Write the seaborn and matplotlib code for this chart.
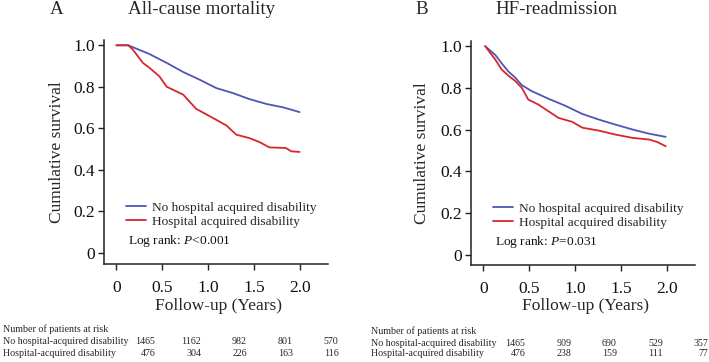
import numpy as np
import pandas as pd
import matplotlib
matplotlib.use("Agg")
import matplotlib.pyplot as plt
import seaborn as sns
from matplotlib import transforms

# ---------------- data ----------------
groups = ["No hospital acquired disability", "Hospital acquired disability"]

# Panel A: all-cause mortality
a_no_time = [0.0, 0.13, 0.36, 0.55, 0.73, 0.91, 1.09, 1.27, 1.45, 1.64, 1.82, 2.0]
a_no_surv = [1.0, 1.0, 0.958, 0.915, 0.871, 0.834, 0.794, 0.770, 0.741, 0.717, 0.701, 0.678]
a_hd_time = [0.0, 0.13, 0.18, 0.29, 0.36, 0.47, 0.55, 0.73, 0.87, 1.02, 1.20, 1.31, 1.45,
             1.56, 1.67, 1.85, 1.91, 2.0]
a_hd_surv = [1.0, 1.0, 0.979, 0.915, 0.892, 0.850, 0.800, 0.762, 0.694, 0.658, 0.614, 0.569,
             0.553, 0.534, 0.508, 0.505, 0.489, 0.486]

# Panel B: HF readmission
b_no_time = [0.02, 0.13, 0.20, 0.27, 0.35, 0.42, 0.53, 0.71, 0.89, 1.08, 1.26, 1.44, 1.63,
             1.81, 1.99]
b_no_surv = [1.0, 0.958, 0.918, 0.880, 0.848, 0.813, 0.784, 0.748, 0.715, 0.675, 0.648,
             0.624, 0.600, 0.580, 0.565]
b_hd_time = [0.02, 0.13, 0.20, 0.27, 0.35, 0.42, 0.49, 0.60, 0.71, 0.82, 0.97, 1.08, 1.26,
             1.44, 1.63, 1.81, 1.90, 1.99]
b_hd_surv = [1.0, 0.936, 0.888, 0.860, 0.832, 0.800, 0.744, 0.720, 0.688, 0.656, 0.637,
             0.609, 0.595, 0.576, 0.560, 0.552, 0.540, 0.520]

risk_times = [0, 0.5, 1.0, 1.5, 2.0]
risk_labels = ["No hospital-acquired disability", "Hospital-acquired disability"]
a_risk_no = [1465, 1162, 982, 801, 570]
a_risk_hd = [476, 304, 226, 163, 116]
b_risk_no = [1465, 909, 690, 529, 357]
b_risk_hd = [476, 238, 159, 111, 77]

xticks = [0, 0.5, 1.0, 1.5, 2.0]
xticklabels = ["0", "0.5", "1.0", "1.5", "2.0"]
yticks = [0, 0.2, 0.4, 0.6, 0.8, 1.0]
yticklabels = ["0", "0.2", "0.4", "0.6", "0.8", "1.0"]

# ---------------- style ----------------
sns.set_theme(style="ticks")
plt.rcParams["font.family"] = ["Liberation Serif", "DejaVu Serif"]
plt.rcParams["mathtext.fontset"] = "custom"
plt.rcParams["mathtext.rm"] = "Liberation Serif"
plt.rcParams["mathtext.it"] = "Liberation Serif:italic"

palette = {groups[0]: "#4F55B5", groups[1]: "#D7262E"}

W, H = 709, 362
fig = plt.figure(figsize=(W / 100, H / 100), dpi=100)


def px_axes(l, t, r, b):
    return fig.add_axes([l / W, 1 - b / H, (r - l) / W, (b - t) / H])


def ftext(x, y, s, **kw):
    return fig.text(x / W, 1 - y / H, s, **kw)


def make_df(t0, s0, t1, s1):
    return pd.concat([
        pd.DataFrame({"time": t0, "surv": s0, "group": groups[0]}),
        pd.DataFrame({"time": t1, "surv": s1, "group": groups[1]}),
    ], ignore_index=True)


axA = px_axes(104, 40, 328, 264)
axB = px_axes(471, 41, 695, 265)

panels = [
    (axA, make_df(a_no_time, a_no_surv, a_hd_time, a_hd_surv), (-0.054, 1.0255), "Log rank: $P$<0.001"),
    (axB, make_df(b_no_time, b_no_surv, b_hd_time, b_hd_surv), (-0.050, 1.025), "Log rank: $P$=0.031"),
]

for ax, df, ylim, ptxt in panels:
    sns.lineplot(data=df, x="time", y="surv", hue="group", palette=palette,
                 estimator=None, sort=False, linewidth=1.3, ax=ax, legend=False)
    ax.set_xlim(-0.135, 2.31)
    ax.set_ylim(*ylim)
    ax.set_xticks(xticks)
    ax.set_xticklabels(xticklabels)
    ax.set_yticks(yticks)
    ax.set_yticklabels(yticklabels)
    ax.set_xlabel("")
    ax.set_ylabel("")
    for side in ["top", "right"]:
        ax.spines[side].set_visible(False)
    for side in ["left", "bottom"]:
        ax.spines[side].set_linewidth(1.1)
        ax.spines[side].set_color("#222222")
    ax.tick_params(axis="both", direction="out", length=4.5, width=1.0, colors="#222222",
                   labelsize=12.5, labelcolor="#111111")
    ax.tick_params(axis="x", pad=7)
    ax.tick_params(axis="y", pad=2)
    ax.set_facecolor("white")
    lines = ax.get_lines()
    ax.legend(lines[:2], groups, loc="upper left", bbox_to_anchor=(0.10, 0.28),
              frameon=False, fontsize=9.6, borderpad=0, borderaxespad=0,
              handlelength=1.45, handletextpad=0.45, labelspacing=0.15)
    ax.text(0.105, 0.103, ptxt, transform=ax.transAxes, fontsize=9.6, va="center",
            ha="left", color="#111111")

# titles
ftext(50, 10, "A", ha="left", va="center", fontsize=13.7)
ftext(202, 10, "All-cause mortality", ha="center", va="center", fontsize=13.7)
ftext(415, 10, "B", ha="left", va="center", fontsize=13.7)
ftext(557, 10, "HF-readmission", ha="center", va="center", fontsize=13.7)

# axis labels
ftext(218, 306, "Follow-up (Years)", ha="center", va="center", fontsize=12.5)
ftext(585, 306, "Follow-up (Years)", ha="center", va="center", fontsize=12.5)
ftext(57, 152, "Cumulative survival", ha="center", va="center", rotation=90, fontsize=12.5)
ftext(422, 153, "Cumulative survival", ha="center", va="center", rotation=90, fontsize=12.5)

# risk tables
tables = [
    (axA, 3, (329, 342, 354), a_risk_no, a_risk_hd, 39),
    (axB, 371, (331, 343, 354), b_risk_no, b_risk_hd, 42),
]
for ax, xl, ys, rno, rhd, off in tables:
    ftext(xl, ys[0], "Number of patients at risk", ha="left", va="center", fontsize=7.2)
    ftext(xl, ys[1], risk_labels[0], ha="left", va="center", fontsize=7.2)
    ftext(xl, ys[2], risk_labels[1], ha="left", va="center", fontsize=7.2)
    base = transforms.blended_transform_factory(ax.transData, fig.transFigure)
    tr = transforms.offset_copy(base, fig=fig, x=off, y=0, units="dots")
    for t, n0, n1 in zip(risk_times, rno, rhd):
        fig.text(t, 1 - ys[1] / H, str(n0), transform=tr, ha="right", va="center", fontsize=7.2)
        fig.text(t, 1 - ys[2] / H, str(n1), transform=tr, ha="right", va="center", fontsize=7.2)

fig.savefig("out.png", dpi=100, facecolor="white")
